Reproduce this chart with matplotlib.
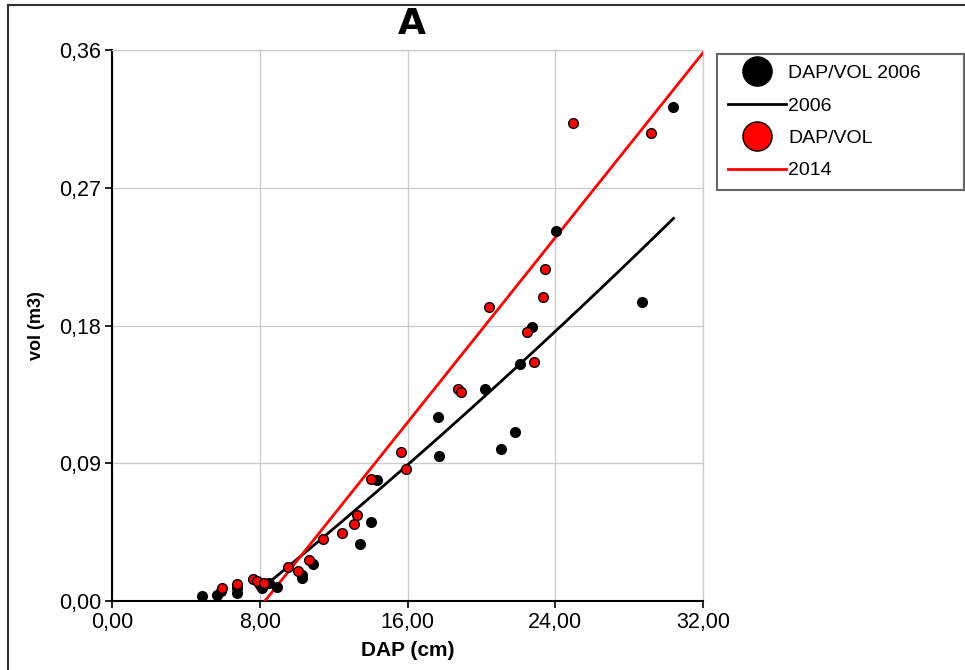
import numpy as np
import matplotlib
matplotlib.use('Agg')
import matplotlib.pyplot as plt
from matplotlib.lines import Line2D
from matplotlib.ticker import FuncFormatter

plt.rcParams['font.family'] = ['Liberation Sans', 'DejaVu Sans']

# DAP (cm) x volume (m3) - 2006
dap_2006 = [4.86, 5.67, 5.90, 6.75, 6.77, 8.01, 8.10, 8.50, 8.92, 10.27, 10.29,
            10.90, 13.43, 14.00, 14.36, 17.67, 17.72, 20.18, 21.04, 21.84, 22.09,
            22.72, 24.02, 28.68, 30.39]
vol_2006 = [0.0030, 0.0040, 0.0065, 0.0050, 0.0085, 0.0105, 0.0083, 0.0120, 0.0090,
            0.0148, 0.0170, 0.0242, 0.0370, 0.0518, 0.0790, 0.1204, 0.0947, 0.1383,
            0.0991, 0.1106, 0.1546, 0.1788, 0.2419, 0.1952, 0.3230]

# DAP (cm) x volume (m3) - 2014
dap_2014 = [5.97, 6.78, 7.65, 7.85, 8.23, 9.55, 10.09, 10.67, 11.41, 12.47, 13.10,
            13.29, 14.02, 15.65, 15.90, 18.71, 18.91, 20.43, 22.48, 22.85, 23.35,
            23.44, 24.98, 29.17]
vol_2014 = [0.0083, 0.0109, 0.0142, 0.0130, 0.0116, 0.0225, 0.0196, 0.0271, 0.0402,
            0.0446, 0.0500, 0.0562, 0.0795, 0.0975, 0.0860, 0.1388, 0.1364, 0.1919,
            0.1757, 0.1560, 0.1988, 0.2167, 0.3121, 0.3060]

# linhas de tendencia (coeficientes, maior grau primeiro) e intervalo de DAP
trend_2006 = [0.0000431, 0.009184, -0.06907]
range_2006 = (8.55, 30.4)
trend_2014 = [0.0151, -0.125]
range_2014 = (8.0, 32.0)

x_ticks = [0, 8, 16, 24, 32]
y_ticks = [0.0, 0.09, 0.18, 0.27, 0.36]

fig = plt.figure(figsize=(9.65, 6.70), dpi=100)
ax = fig.add_axes([112 / 965, 69 / 670, 591 / 965, 551 / 670])

ax.grid(True, color='#cccccc', linewidth=1)
ax.set_axisbelow(True)

x06 = np.linspace(*range_2006, 100)
x14 = np.linspace(*range_2014, 100)
ax.plot(x06, np.polyval(trend_2006, x06), color='black', lw=2, zorder=3)
ax.plot(x14, np.polyval(trend_2014, x14), color='red', lw=2, zorder=3)

ax.plot(dap_2006, vol_2006, 'o', color='black', markersize=7, zorder=4)
ax.plot(dap_2014, vol_2014, 'o', markerfacecolor='red', markeredgecolor='black',
        markeredgewidth=1, markersize=7, zorder=5)

ax.set_xlim(0, 32)
ax.set_ylim(0, 0.36)
ax.set_xticks(x_ticks)
ax.set_yticks(y_ticks)
ax.xaxis.set_major_formatter(FuncFormatter(lambda v, p: f'{v:.2f}'.replace('.', ',')))
ax.yaxis.set_major_formatter(FuncFormatter(lambda v, p: f'{v:.2f}'.replace('.', ',')))
ax.tick_params(labelsize=15.5, length=5, width=1.2, direction='out', pad=3)

for s in ['top', 'right']:
    ax.spines[s].set_color('#cccccc')
    ax.spines[s].set_linewidth(1)
for s in ['left', 'bottom']:
    ax.spines[s].set_color('black')
    ax.spines[s].set_linewidth(1.5)

ax.set_xlabel('DAP (cm)', fontsize=15, fontweight='bold', labelpad=6)
ax.set_ylabel('vol (m3)', fontsize=13, fontweight='bold', labelpad=10)
fig.text(412 / 965, 1 - 24 / 670, 'A', fontsize=26, fontweight='heavy',
         family='DejaVu Sans', ha='center', va='center')

handles = [
    Line2D([], [], ls='', marker='o', color='black', markersize=21),
    Line2D([], [], color='black', lw=2),
    Line2D([], [], ls='', marker='o', markerfacecolor='red',
           markeredgecolor='black', markersize=21),
    Line2D([], [], color='red', lw=2),
]
labels = ['DAP/VOL 2006', '2006', 'DAP/VOL', '2014']
leg = fig.legend(handles, labels, loc='upper left',
                 bbox_to_anchor=(717 / 965, 1 - 54 / 670, 247 / 965, 0),
                 mode='expand', fontsize=14, frameon=True, fancybox=False,
                 edgecolor='#404040', handlelength=3.0, handletextpad=0.1,
                 labelspacing=0.76, borderpad=0.55, borderaxespad=0)
leg.get_frame().set_linewidth(1.5)

# moldura externa (esquerda e topo)
fig.add_artist(Line2D([8 / 965, 8 / 965], [0, 1 - 5 / 670], color='#303030', lw=1.5))
fig.add_artist(Line2D([8 / 965, 1], [1 - 5 / 670, 1 - 5 / 670], color='#303030', lw=1.5))

fig.savefig('out.png', dpi=100)
